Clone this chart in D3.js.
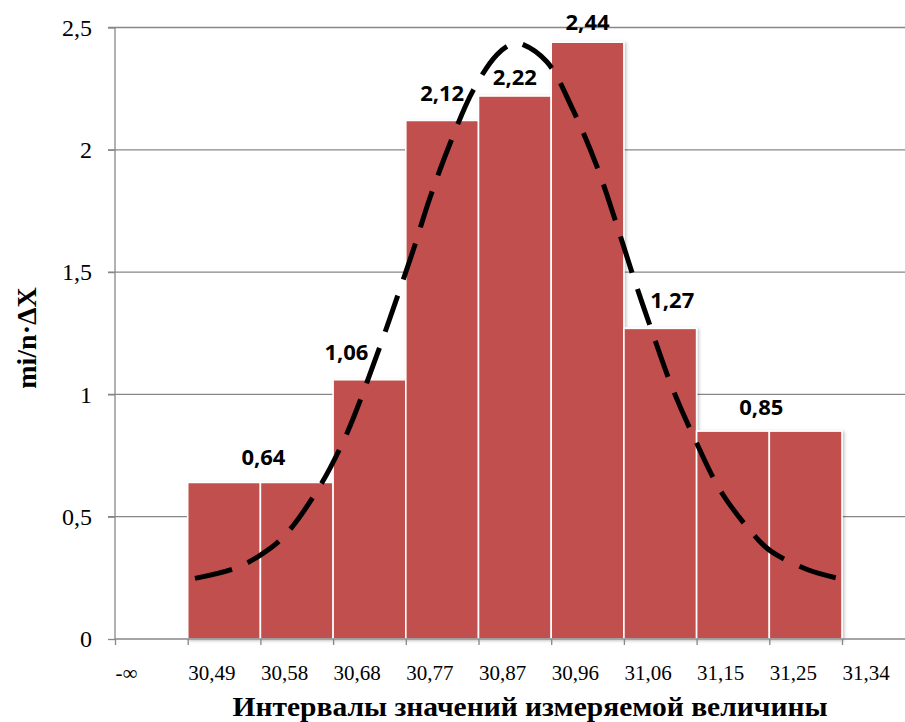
<!DOCTYPE html>
<html><head><meta charset="utf-8">
<script src="https://cdn.jsdelivr.net/npm/d3@7"></script>
<style>body{margin:0;background:#fff}svg{display:block}</style>
</head><body>
<script>
// ---- data ----
const tickLabels = ["-∞","30,49","30,58","30,68","30,77","30,87","30,96","31,06","31,15","31,25","31,34"];
const barValues = [0.64,0.64,1.06,2.12,2.22,2.44,1.27,0.85,0.85];
const yTicks = [0,0.5,1,1.5,2,2.5];
// data labels: text, bars covered
const labelTexts = ["0,64","1,06","2,12","2,22","2,44","1,27","0,85"];
const labelBars = [[0,1],[2],[3],[4],[5],[6],[7,8]];
// theoretical density curve (x in interval-boundary units)
const curveX = [1.10,1.65,2.00,2.32,2.80,3.16,3.46,4.08,4.33,4.61,4.93,5.25,5.46,5.57,5.94,6.30,6.63,6.88,7.13,7.38,7.66,7.98,8.35,8.85,9.03,9.54,9.95];
const curveY = [0.248,0.289,0.343,0.418,0.616,0.821,1.045,1.570,1.802,2.027,2.245,2.388,2.433,2.435,2.360,2.163,1.931,1.713,1.481,1.263,1.031,0.814,0.596,0.405,0.357,0.282,0.248];

(function(){
// ---- layout ----
const W=905,H=722;
const mL=115,mR=905,mT=27.5,mB=639;
const labelShift=[[3,-17],[-23,-20],[0,-19],[0,-11],[0,-12],[12,-20],[-8,-16]];

const svg=d3.select("body").append("svg").attr("width",W).attr("height",H);
const defs=svg.append("defs");
const f=defs.append("filter").attr("id","sh").attr("x","-10%").attr("y","-10%").attr("width","130%").attr("height","130%");
f.append("feDropShadow").attr("dx",1.5).attr("dy",1).attr("stdDeviation",1.5).attr("flood-color","#000").attr("flood-opacity",0.25);

const x=d3.scaleLinear().domain([0,10]).range([mL,842]);
const y=d3.scaleLinear().domain([0,2.5]).range([mB,mT]);
const grid="#878787";

// gridlines
svg.append("g").selectAll("line").data(yTicks.filter(d=>d>0)).join("line")
  .attr("x1",mL-7).attr("x2",mR).attr("y1",d=>y(d)).attr("y2",d=>y(d))
  .attr("stroke",grid).attr("stroke-width",1.3);

// bars
svg.append("g").attr("filter","url(#sh)").selectAll("rect").data(barValues).join("rect")
  .attr("x",(d,i)=>x(i+1)).attr("width",x(2)-x(1))
  .attr("y",d=>y(d)).attr("height",d=>y(0)-y(d))
  .attr("fill","#C0504D").attr("stroke","#fff").attr("stroke-width",1.6);

// axes
const yAxis=d3.axisLeft(y).tickValues(yTicks).tickSize(7).tickFormat(d=>String(d).replace(".",","));
const gy=svg.append("g").attr("transform",`translate(${mL},0)`).call(yAxis);
gy.select(".domain").attr("stroke",grid).attr("stroke-width",1.3).attr("d",`M0,${mT}V${mB}`);
gy.selectAll(".tick line").attr("stroke",grid).attr("stroke-width",1.3);
gy.selectAll(".tick text").attr("x",-23).attr("font-family","'Liberation Serif','Times New Roman',serif").attr("font-size",24).attr("fill","#000");

const xAxis=d3.axisBottom(x).tickValues(d3.range(0,11)).tickSize(6).tickFormat(i=>tickLabels[i]);
const gx=svg.append("g").attr("transform",`translate(0,${mB})`).call(xAxis);
gx.select(".domain").attr("stroke",grid).attr("stroke-width",1.3).attr("d",`M${mL},0H${mR}`);
gx.selectAll(".tick line").attr("stroke",grid).attr("stroke-width",1.3);
gx.selectAll(".tick text").attr("text-anchor","start").attr("y",41).attr("dy",0)
  .attr("font-family","'Liberation Serif','Times New Roman',serif").attr("font-size",21).attr("fill","#000");

// curve
const line=d3.line().x(d=>x(d[0])).y(d=>y(d[1])).curve(d3.curveCatmullRom);
svg.append("path").datum(curveX.map((v,i)=>[v,curveY[i]])).attr("d",line)
  .attr("fill","none").attr("stroke","#000").attr("stroke-width",5).attr("stroke-dasharray","38,17");

// data labels
svg.append("g").selectAll("text").data(labelTexts).join("text")
  .attr("x",(t,i)=>x(d3.mean(labelBars[i])+1.5)+labelShift[i][0])
  .attr("y",(t,i)=>y(barValues[labelBars[i][0]])+labelShift[i][1])
  .attr("text-anchor","middle").attr("font-family","'Open Sans',Carlito,Calibri,sans-serif")
  .attr("font-weight",700).attr("font-size",22).attr("fill","#000").text(t=>t);

// axis titles
svg.append("text").attr("x",530).attr("y",716).attr("text-anchor","middle")
  .attr("font-family","'Liberation Serif','Times New Roman',serif").attr("font-weight",700).attr("font-size",27)
  .attr("textLength",595).attr("lengthAdjust","spacingAndGlyphs")
  .text("Интервалы значений измеряемой величины");
svg.append("text").attr("transform","translate(36,338) rotate(-90)").attr("text-anchor","middle")
  .attr("font-family","'Liberation Serif','Times New Roman',serif").attr("font-weight",700).attr("font-size",28)
  .text("mi/n·ΔX");
})();
</script>
</body></html>
